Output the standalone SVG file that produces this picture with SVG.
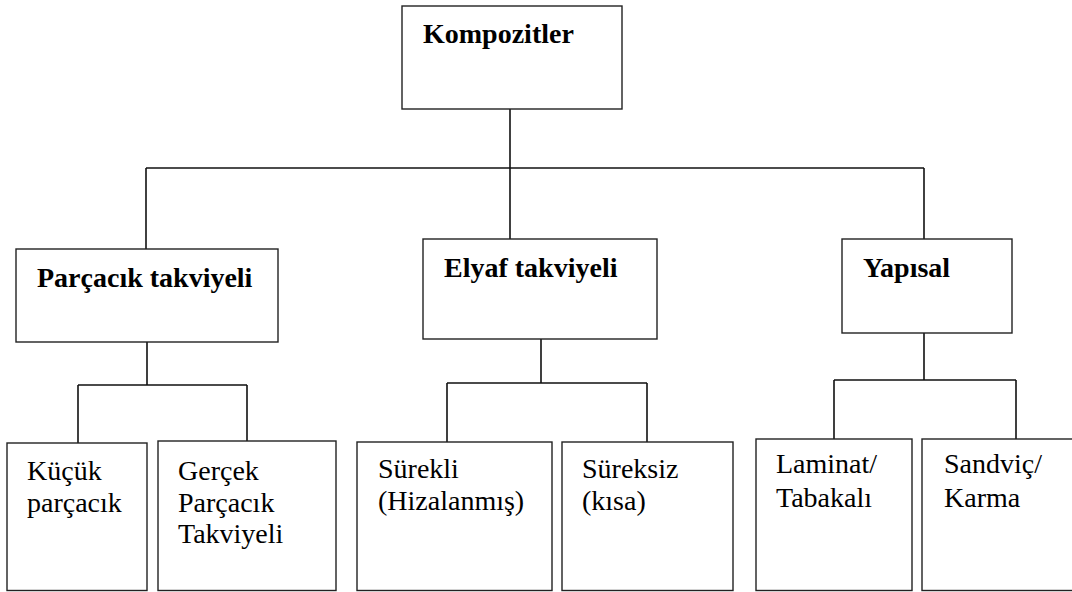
<svg xmlns="http://www.w3.org/2000/svg" width="1072" height="592" viewBox="0 0 1072 592" font-family="Liberation Serif, Times New Roman, serif" font-size="28">
<style>
.box{fill:#fff;stroke:#222;stroke-width:1.4}
.ln{fill:none;stroke:#111;stroke-width:1.6}
text{fill:#000}
.b{font-weight:bold}
</style>
<rect width="1072" height="592" fill="#fff"/>
<g id="connectors">
<path class="ln" d="M510,108 V239"/>
<path class="ln" d="M146,168 H924"/>
<path class="ln" d="M146,168 V249"/>
<path class="ln" d="M924,168 V239"/>
<path class="ln" d="M147,342 V385 M78,385 H247 M78,385 V443 M247,385 V441"/>
<path class="ln" d="M541,339 V383 M447,383 H647 M447,383 V442 M647,383 V442"/>
<path class="ln" d="M924,333 V380 M834,380 H1016 M834,380 V439 M1016,380 V439"/>
</g>
<g id="kompozitler"><rect class="box" x="402" y="6" width="220" height="103"/><text class="b" x="423" y="43">Kompozitler</text></g>
<g id="parcacik"><rect class="box" x="16" y="249" width="262" height="93"/><text class="b" x="37" y="287">Parçacık takviyeli</text></g>
<g id="elyaf"><rect class="box" x="423" y="239" width="234" height="100"/><text class="b" x="444" y="277">Elyaf takviyeli</text></g>
<g id="yapisal"><rect class="box" x="842" y="239" width="170" height="94"/><text class="b" x="863" y="277">Yapısal</text></g>
<g id="kucuk"><rect class="box" x="7" y="443" width="140" height="147.5"/><text x="27" y="480">Küçük</text><text x="27" y="512">parçacık</text></g>
<g id="gercek"><rect class="box" x="158" y="441" width="178" height="149.5"/><text x="178" y="480">Gerçek</text><text x="178" y="512">Parçacık</text><text x="178" y="543">Takviyeli</text></g>
<g id="surekli"><rect class="box" x="357" y="442" width="195" height="148.5"/><text x="378" y="478">Sürekli</text><text x="378" y="510">(Hizalanmış)</text></g>
<g id="sureksiz"><rect class="box" x="562" y="442" width="171" height="148.5"/><text x="582" y="478">Süreksiz</text><text x="582" y="510">(kısa)</text></g>
<g id="laminat"><rect class="box" x="756" y="439" width="156" height="151.5"/><text x="776" y="473">Laminat/</text><text x="776" y="507">Tabakalı</text></g>
<g id="sandvic"><rect class="box" x="922" y="439" width="160" height="151.5"/><text x="944" y="473">Sandviç/</text><text x="944" y="507">Karma</text></g>
</svg>
